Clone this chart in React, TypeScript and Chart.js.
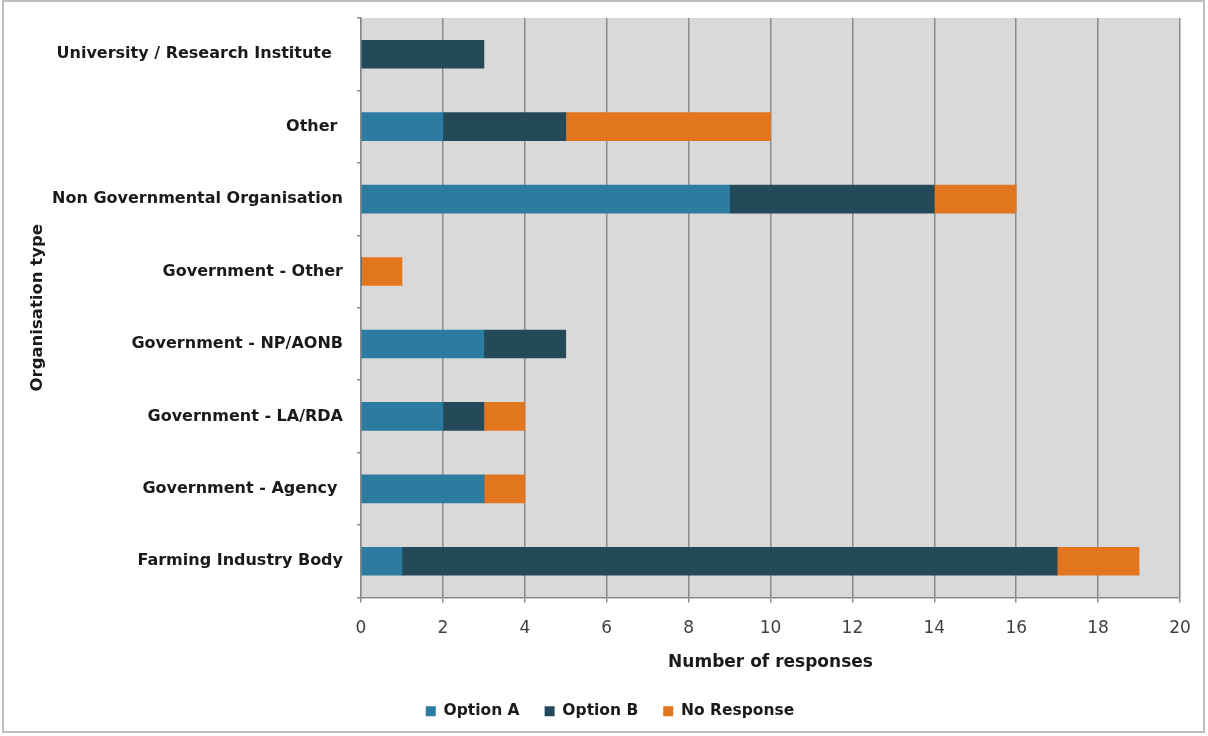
import { useEffect, useRef } from "react";
import { Chart, registerables } from "chart.js";

Chart.register(...registerables);

// Organisation types, listed top to bottom
const categories = [
  "University / Research Institute  ",
  "Other ",
  "Non Governmental Organisation",
  "Government - Other",
  "Government - NP/AONB",
  "Government - LA/RDA",
  "Government - Agency ",
  "Farming Industry Body",
];

// Number of responses per organisation type
const optionA = [0, 2, 9, 0, 3, 2, 3, 1];
const optionB = [3, 3, 5, 0, 2, 1, 0, 16];
const noResponse = [0, 5, 2, 1, 0, 1, 1, 2];

const seriesNames = ["Option A", "Option B", "No Response"];
const seriesColors = ["#2c7ba0", "#244a5a", "#e2761f"];

const xMin = 0;
const xMax = 20;
const xStep = 2;

const FONT = "'DejaVu Sans', sans-serif";

// Paints the page background, the grey plot area and the outer frame
const backdrop = {
  id: "backdrop",
  beforeDraw(chart: any) {
    const { ctx, chartArea, width, height } = chart;
    ctx.save();
    ctx.fillStyle = "#ffffff";
    ctx.fillRect(0, 0, width, height);
    ctx.fillStyle = "#d9d9d9";
    ctx.fillRect(
      chartArea.left,
      chartArea.top,
      chartArea.right - chartArea.left,
      chartArea.bottom - chartArea.top
    );
    ctx.restore();
  },
  afterDraw(chart: any) {
    const { ctx } = chart;
    ctx.save();
    ctx.strokeStyle = "#bfbfbf";
    ctx.lineWidth = 2;
    ctx.strokeRect(3, 1, 1201, 731);
    ctx.restore();
  },
};

export default function App() {
  const canvasRef = useRef<HTMLCanvasElement | null>(null);

  useEffect(() => {
    if (!canvasRef.current) return;
    const datasets = [optionA, optionB, noResponse].map((values, i) => ({
      label: seriesNames[i],
      data: values,
      backgroundColor: seriesColors[i],
      borderWidth: 0,
      barThickness: 28,
    }));

    const chart = new Chart(canvasRef.current, {
      type: "bar",
      data: { labels: categories, datasets },
      plugins: [backdrop],
      options: {
        indexAxis: "y",
        responsive: false,
        animation: false,
        layout: { padding: { top: 18, right: 28, bottom: 7, left: 40 } },
        plugins: {
          tooltip: { enabled: false },
          legend: {
            position: "bottom",
            labels: {
              boxWidth: 10,
              boxHeight: 10,
              padding: 25,
              color: "#1a1a1a",
              font: { family: FONT, size: 15.5, weight: "bold" },
            },
          },
        },
        scales: {
          x: {
            stacked: true,
            min: xMin,
            max: xMax,
            ticks: {
              stepSize: xStep,
              padding: 16,
              color: "#404040",
              font: { family: FONT, size: 17 },
            },
            grid: {
              color: "#8a8a8a",
              lineWidth: 1.5,
              tickLength: 5,
            },
            border: { color: "#8a8a8a", width: 1.5 },
            title: {
              display: true,
              text: "Number of responses",
              color: "#1a1a1a",
              font: { family: FONT, size: 17, weight: "bold" },
              padding: { top: 0, bottom: 6 },
            },
            afterFit(scale: any) {
              scale.height = 81;
            },
          },
          y: {
            stacked: true,
            ticks: {
              padding: 14,
              color: "#1a1a1a",
              font: { family: FONT, size: 16, weight: "bold" },
            },
            grid: {
              drawOnChartArea: false,
              color: "#8a8a8a",
              lineWidth: 1.5,
              tickLength: 4,
            },
            border: { color: "#8a8a8a", width: 1.5 },
            title: {
              display: true,
              text: "Organisation type",
              color: "#1a1a1a",
              font: { family: FONT, size: 16.5, weight: "bold" },
              padding: { top: -12, bottom: 0 },
            },
            afterFit(scale: any) {
              scale.width = 321;
              scale.paddingTop = 0;
              scale.paddingBottom = 0;
            },
          },
        },
      },
    } as any);

    return () => chart.destroy();
  }, []);

  return (
    <div style={{ position: "fixed", left: 0, top: 0, width: 1208, height: 736 }}>
      <canvas ref={canvasRef} width={1208} height={736} style={{ display: "block" }} />
    </div>
  );
}
